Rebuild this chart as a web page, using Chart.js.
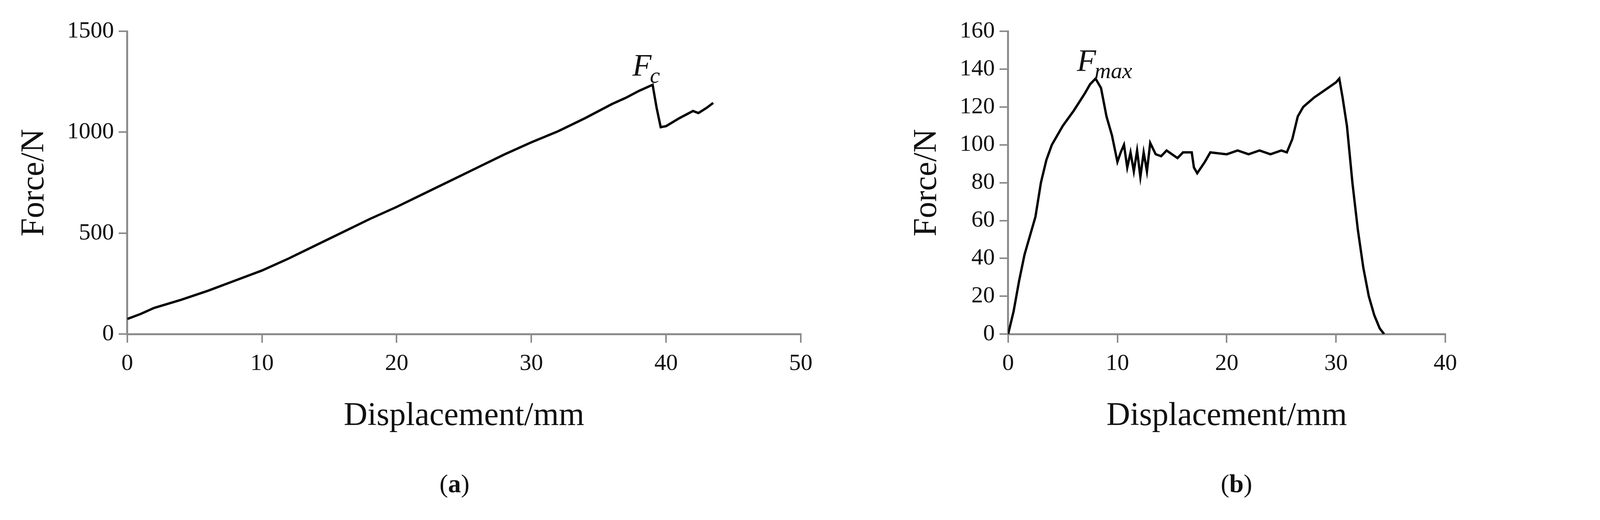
<!DOCTYPE html>
<html>
<head>
<meta charset="utf-8">
<script src="https://cdn.jsdelivr.net/npm/chart.js@4.4.1/dist/chart.umd.min.js"></script>
<style>
  html, body { margin: 0; background: #fff; }
  .box { position: absolute; top: 0; height: 1120px; }
  .cap { position: absolute; top: 1200px; font: 66px "Liberation Serif", serif; color: #111; }
</style>
</head>
<body>
<div class="box" style="left:0;width:2110px"><canvas id="chartA"></canvas></div>
<div class="box" style="left:2300px;width:1460px"><canvas id="chartB"></canvas></div>
<div class="cap" style="left:1125px">(<b>a</b>)</div>
<div class="cap" style="left:3125px">(<b>b</b>)</div>
<script>
/* data: panel (a) */
const dispA = [0, 1, 2, 4, 6, 8, 10, 12, 14, 16, 18, 20, 22, 24, 26, 28, 30, 32, 34, 36, 37, 38, 39, 39.3, 39.6, 40, 41, 42, 42.4, 43, 43.5];
const forceA = [75, 100, 130, 170, 215, 265, 315, 375, 440, 505, 570, 630, 695, 760, 825, 890, 950, 1005, 1070, 1140, 1170, 1205, 1235, 1120, 1025, 1030, 1070, 1105, 1095, 1120, 1145];
const ticksA_x = [0, 10, 20, 30, 40, 50];
const ticksA_y = [0, 500, 1000, 1500];

/* data: panel (b) */
const dispB = [0, 0.5, 1, 1.5, 2, 2.5, 3, 3.5, 4, 5, 6, 7, 7.5, 8, 8.5, 9, 9.5, 10, 10.3, 10.6, 10.9, 11.2, 11.5, 11.8, 12.1, 12.4, 12.7, 13, 13.5, 14, 14.5, 15, 15.5, 16, 16.8, 17, 17.3, 18, 18.5, 20, 21, 22, 23, 24, 25, 25.5, 26, 26.5, 27, 28, 29, 30, 30.3, 30.6, 31, 31.5, 32, 32.5, 33, 33.5, 34, 34.4];
const forceB = [0, 12, 28, 42, 52, 62, 80, 92, 100, 110, 118, 127, 132, 135, 130, 115, 105, 91, 96, 100, 88, 96, 86, 97, 83, 96, 86, 101, 95, 94, 97, 95, 93, 96, 96, 88, 85, 91, 96, 95, 97, 95, 97, 95, 97, 96, 103, 115, 120, 125, 129, 133, 135, 125, 110, 80, 55, 35, 20, 10, 3, 0];
const ticksB_x = [0, 10, 20, 30, 40];
const ticksB_y = [0, 20, 40, 60, 80, 100, 120, 140, 160];

const FONT = "'Liberation Serif', 'DejaVu Serif', serif";
const AXIS = "#8c8c8c";

/* italic label with subscript, placed in data coordinates */
function labelPlugin(id, x, y, main, sub) {
  return {
    id: id,
    afterDatasetsDraw(chart) {
      const c = chart.ctx;
      const px = chart.scales.x.getPixelForValue(x);
      const py = chart.scales.y.getPixelForValue(y);
      c.save();
      c.fillStyle = "#111";
      c.textBaseline = "alphabetic";
      c.font = "italic 80px " + FONT;
      c.fillText(main, px, py);
      const w = c.measureText(main).width;
      c.font = "italic 58px " + FONT;
      c.fillText(sub, px + w - 4, py + 18);
      c.restore();
    }
  };
}

function makeChart(canvasId, xs, ys, xTicks, yTicks, plugin, padLeft, padRight) {
  const pts = xs.map((x, i) => ({ x: x, y: ys[i] }));
  return new Chart(document.getElementById(canvasId), {
    type: "line",
    data: {
      datasets: [{
        data: pts,
        borderColor: "#000",
        borderWidth: 6,
        pointRadius: 0,
        tension: 0
      }]
    },
    options: {
      responsive: true,
      maintainAspectRatio: false,
      animation: false,
      layout: { padding: { left: padLeft, top: 80, right: padRight, bottom: 0 } },
      plugins: { legend: { display: false }, tooltip: { enabled: false } },
      scales: {
        x: {
          type: "linear",
          min: xTicks[0],
          max: xTicks[xTicks.length - 1],
          afterBuildTicks: s => { s.ticks = xTicks.map(v => ({ value: v })); },
          grid: { drawOnChartArea: false, color: AXIS, lineWidth: 4, tickLength: 22 },
          border: { color: AXIS, width: 5 },
          ticks: { color: "#111", font: { family: FONT, size: 60 }, padding: 18, callback: v => String(v) },
          title: { display: true, text: "Displacement/mm", color: "#111", font: { family: FONT, size: 84 }, padding: { top: 30 } }
        },
        y: {
          type: "linear",
          min: yTicks[0],
          max: yTicks[yTicks.length - 1],
          afterBuildTicks: s => { s.ticks = yTicks.map(v => ({ value: v })); },
          grid: { drawOnChartArea: false, color: AXIS, lineWidth: 4, tickLength: 22 },
          border: { color: AXIS, width: 5 },
          ticks: { color: "#111", font: { family: FONT, size: 60 }, padding: 12, callback: v => String(v) },
          title: { display: true, text: "Force/N", color: "#111", font: { family: FONT, size: 84 }, padding: { bottom: 20 } }
        }
      }
    },
    plugins: [plugin]
  });
}

makeChart("chartA", dispA, forceA, ticksA_x, ticksA_y, labelPlugin("fc", 37.5, 1280, "F", "c"), 35, 60);
makeChart("chartB", dispB, forceB, ticksB_x, ticksB_y, labelPlugin("fmax", 6.3, 139, "F", "max"), 20, 60);
</script>
</body>
</html>
